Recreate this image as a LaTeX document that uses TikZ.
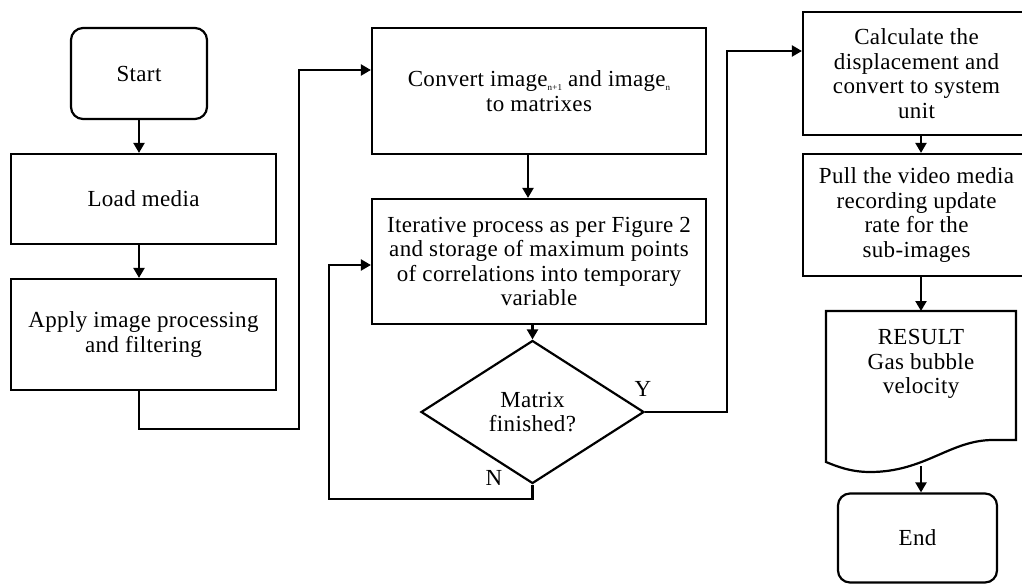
\documentclass[tikz,border=0pt]{standalone}
\usepackage{fontspec}
\setmainfont{Liberation Serif}[LetterSpace=1.5]
\usetikzlibrary{arrows.meta,shapes.geometric}
\newcommand{\sub}[1]{\raisebox{-4pt}{\fontsize{9}{9}\selectfont #1}}
\begin{document}
\begin{tikzpicture}[
        x=1pt, y=-1pt,
        every node/.style={align=center, font=\fontsize{23}{24.5}\selectfont},
        box/.style={draw, rectangle, line width=2.2pt, inner sep=0pt},
        term/.style={box, rounded corners=12pt},
        cond/.style={draw, diamond, line width=2.2pt, inner sep=0pt},
        lbl/.style={inner sep=0pt},
        arr/.style={draw, line width=2.2pt, -{Triangle[width=11pt,length=10pt]}},
        line/.style={draw, line width=2.2pt},
    ]
    \useasboundingbox (0,0) rectangle (1022,584);
    \clip (0,0) rectangle (1022,584);
    \node[term, minimum width=136pt, minimum height=91pt](start) at (139,73.5){Start};
    \node[box, minimum width=265pt, minimum height=90pt](load) at (143.5,199){Load media};
    \node[box, minimum width=265pt, minimum height=111pt](apply) at (143.5,334.5){Apply image processing\\and filtering};
    \node[box, minimum width=334pt, minimum height=126pt](convert) at (539,91){Convert image\sub{n+1} and image\sub{n}\\to matrixes};
    \node[box, minimum width=334pt, minimum height=125pt](iter) at (539,261.5){Iterative process as per Figure 2\\and storage of maximum points\\of correlations into temporary\\variable};
    \node[cond, minimum width=223pt, minimum height=143pt](dec) at (532.5,412){Matrix\\finished?};
    \node[lbl](yes) at (643,389){Y};
    \node[lbl](no) at (494,478){N};
    \node[box, minimum width=227pt, minimum height=123pt](calc) at (916.5,73.5){Calculate the\\displacement and\\convert to system\\unit};
    \node[box, minimum width=227pt, minimum height=122pt](pull) at (916.5,215){Pull the video media\\recording update\\rate for the\\sub-images};
    \node[lbl](result) at (921,364){RESULT\\Gas bubble\\velocity};
    \node[term, minimum width=159pt, minimum height=89pt](end) at (917.5,538){End};
    \coordinate (rtop) at (921,311);
    \coordinate (wave) at (921,466);
    \draw[line] (826,311) -- (1016,311) -- (1016,440) -- (993,440)
        .. controls (950,440) and (925,472) .. (870,472)
        .. controls (850,472) and (836,466) .. (826,462) -- cycle;
    \draw[arr] (start.south) -- (start |- load.north);
    \draw[arr] (start |- load.south) -- (start |- apply.north);
    \draw[arr] (start |- apply.south) -- (139,429) -- (299,429) -- (299,70) -- (convert.west |- 0,70);
    \draw[arr] ([xshift=-11pt]convert.south) -- ([xshift=-11pt]iter.north);
    \draw[arr] (iter.south -| dec.north) -- (dec.north);
    \draw[arr] (dec.south) -- (532.5,499) -- (329,499) -- (329,265) -- (iter.west |- 0,265);
    \draw[arr] (dec.east) -- (727,412) -- (727,51) -- (calc.west |- 0,51);
    \draw[arr] (calc.south -| rtop) -- (pull.north -| rtop);
    \draw[arr] (pull.south -| rtop) -- (rtop);
    \draw[arr] (wave) -- (wave |- end.north);
\end{tikzpicture}
\end{document}
